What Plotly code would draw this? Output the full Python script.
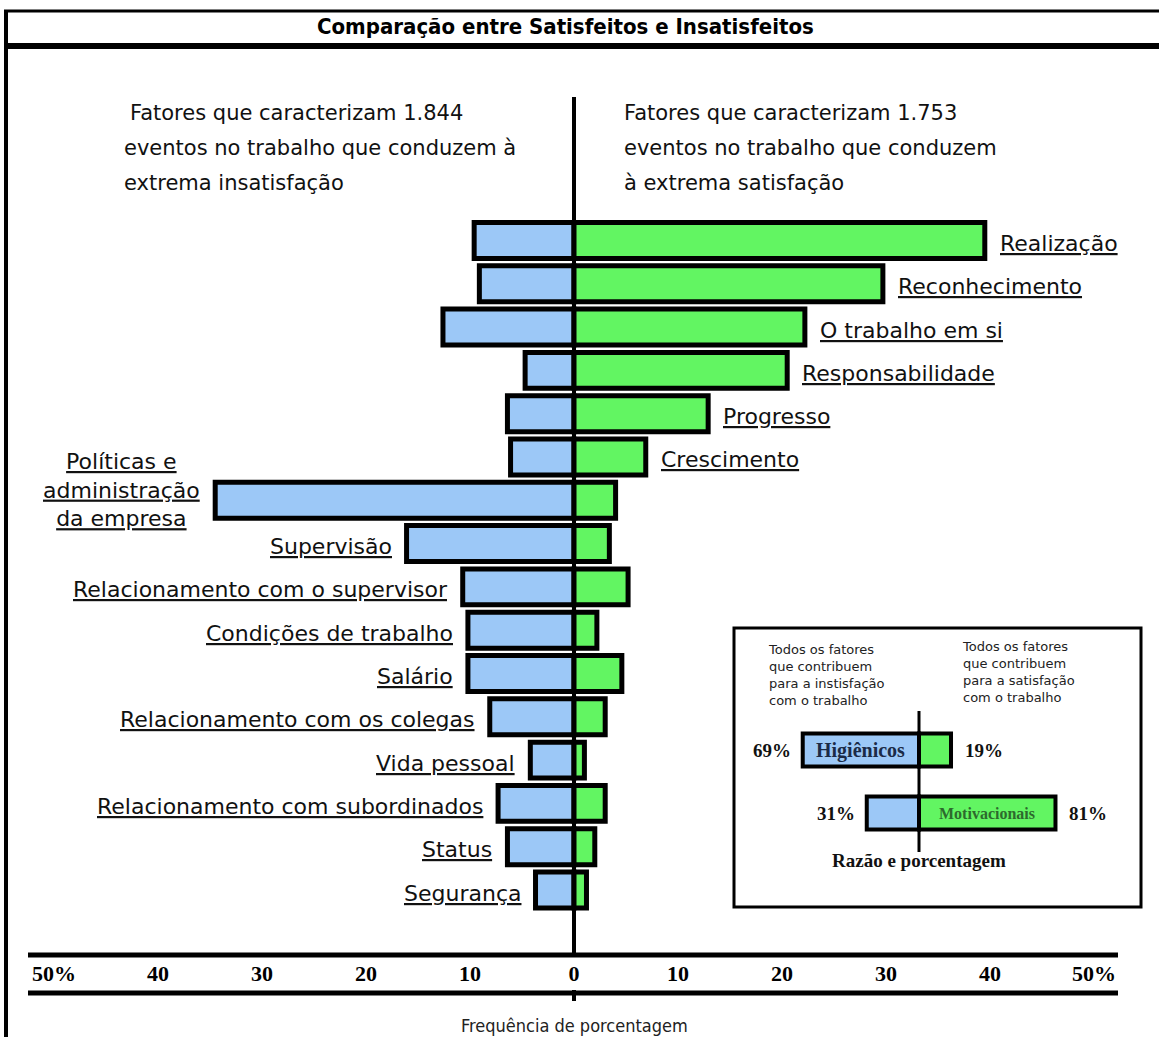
import plotly.graph_objects as go

W, H = 1159, 1037

# Fatores motivacionais (rótulo à direita) e higiênicos (rótulo à esquerda)
motivadores = [
    "Realização",
    "Reconhecimento",
    "O trabalho em si",
    "Responsabilidade",
    "Progresso",
    "Crescimento",
]
higienicos = [
    "Políticas e administração da empresa",
    "Supervisão",
    "Relacionamento com o supervisor",
    "Condições de trabalho",
    "Salário",
    "Relacionamento com os colegas",
    "Vida pessoal",
    "Relacionamento com subordinados",
    "Status",
    "Segurança",
]
categorias = motivadores + higienicos

# Frequência (%) em eventos de extrema insatisfação / satisfação
insatisfacao = [9.6, 9.1, 12.6, 4.7, 6.4, 6.1, 34.5, 16.1, 10.7, 10.2, 10.2, 8.1, 4.2, 7.3, 6.4, 3.7]
satisfacao = [39.5, 29.7, 22.2, 20.5, 12.9, 6.9, 4.0, 3.4, 5.2, 2.2, 4.6, 3.0, 1.0, 3.0, 2.0, 1.2]

marcas_x = [-50, -40, -30, -20, -10, 0, 10, 20, 30, 40, 50]
rotulos_x = ["50%", "40", "30", "20", "10", "0", "10", "20", "30", "40", "50%"]

# Quadro-resumo: razão e porcentagem
grupos_resumo = ["Higiênicos", "Motivacionais"]
insat_resumo = [69, 31]
sat_resumo = [19, 81]

AZUL = "#9cc8f7"
VERDE = "#62f562"
SANS = "DejaVu Sans, Verdana, sans-serif"
SERIF = "Liberation Serif, Times New Roman, serif"
NARROW = "Liberation Sans Narrow, DejaVu Sans Condensed, Arial Narrow, Liberation Sans, sans-serif"


def px(x):
    return x / W


def py(y):
    return 1 - y / H


fig = go.Figure()

fig.add_trace(go.Bar(
    y=categorias, x=[-v for v in insatisfacao], orientation="h",
    marker=dict(color=AZUL, line=dict(color="black", width=5)),
    width=0.83, name="Insatisfação", hoverinfo="y+text",
    hovertext=[f"{v}%" for v in insatisfacao],
    xaxis="x", yaxis="y",
))
fig.add_trace(go.Bar(
    y=categorias, x=satisfacao, orientation="h",
    marker=dict(color=VERDE, line=dict(color="black", width=5)),
    width=0.83, name="Satisfação", hoverinfo="y+text",
    hovertext=[f"{v}%" for v in satisfacao],
    xaxis="x", yaxis="y",
))

fig.add_trace(go.Bar(
    y=grupos_resumo, x=[-v for v in insat_resumo], orientation="h",
    marker=dict(color=AZUL, line=dict(color="black", width=4)),
    width=0.52, hoverinfo="skip", xaxis="x2", yaxis="y2",
))
fig.add_trace(go.Bar(
    y=grupos_resumo, x=sat_resumo, orientation="h",
    marker=dict(color=VERDE, line=dict(color="black", width=4)),
    width=0.52, hoverinfo="skip", xaxis="x2", yaxis="y2",
))

anns = []

# Título
anns.append(dict(
    text="Comparação entre Satisfeitos e Insatisfeitos",
    xref="paper", yref="paper", x=px(565), y=py(27),
    xanchor="center", yanchor="middle", showarrow=False,
    font=dict(family=NARROW, size=22, color="black", weight="bold"),
))

# Cabeçalhos dos dois lados
cab_esq = ["Fatores que caracterizam 1.844", "eventos no trabalho que conduzem à", "extrema insatisfação"]
cab_dir = ["Fatores que caracterizam 1.753", "eventos no trabalho que conduzem", "à extrema satisfação"]
for k, (a, b) in enumerate(zip(cab_esq, cab_dir)):
    yy = py(113 + 35 * k)
    anns.append(dict(text=a, xref="paper", yref="paper", x=px(128 if k == 0 else 122), y=yy,
                     xanchor="left", yanchor="middle", showarrow=False,
                     font=dict(family=SANS, size=21, color="#111")))
    anns.append(dict(text=b, xref="paper", yref="paper", x=px(622), y=yy,
                     xanchor="left", yanchor="middle", showarrow=False,
                     font=dict(family=SANS, size=21, color="#111")))

# Rótulos sublinhados dos fatores
quebras = {"Políticas e administração da empresa": "Políticas e<br>administração<br>da empresa"}
for i, cat in enumerate(categorias):
    texto = quebras.get(cat, cat)
    if cat in motivadores:
        x, xa, xs = satisfacao[i], "left", 13
    else:
        x, xa, xs = -insatisfacao[i], "right", -13
    anns.append(dict(
        text=texto, xref="x", yref="y", x=x, y=cat,
        xanchor=xa, yanchor="middle", xshift=xs,
        yshift=10 if "<br>" in texto else -3,
        align="center", showarrow=False,
        font=dict(family=SANS, size=22, color="#111", lineposition="under"),
    ))

# Título do eixo
anns.append(dict(
    text="Frequência de porcentagem", xref="paper", yref="paper",
    x=px(574), y=py(1025), xanchor="center", yanchor="middle", showarrow=False,
    font=dict(family=NARROW, size=18, color="#222"),
))

# Quadro-resumo: textos
anns.append(dict(
    text="Todos os fatores<br>que contribuem<br>para a instisfação<br>com o trabalho",
    xref="paper", yref="paper", x=px(766), y=py(640), xanchor="left", yanchor="top",
    align="left", showarrow=False, font=dict(family=SANS, size=13, color="#222"),
))
anns.append(dict(
    text="Todos os fatores<br>que contribuem<br>para a satisfação<br>com o trabalho",
    xref="paper", yref="paper", x=px(960), y=py(637), xanchor="left", yanchor="top",
    align="left", showarrow=False, font=dict(family=SANS, size=13, color="#222"),
))
for g, vi, vs in zip(grupos_resumo, insat_resumo, sat_resumo):
    anns.append(dict(text=f"{vi}%", xref="x2", yref="y2", x=-vi, y=g,
                     xanchor="right", yanchor="middle", xshift=-10, showarrow=False,
                     font=dict(family=SERIF, size=19, color="#111", weight="bold")))
    anns.append(dict(text=f"{vs}%", xref="x2", yref="y2", x=vs, y=g,
                     xanchor="left", yanchor="middle", xshift=12, showarrow=False,
                     font=dict(family=SERIF, size=19, color="#111", weight="bold")))
anns.append(dict(text=grupos_resumo[0], xref="x2", yref="y2", x=-insat_resumo[0] / 2, y=grupos_resumo[0],
                 xanchor="center", yanchor="middle", showarrow=False,
                 font=dict(family=SERIF, size=20, color="#1b2b47", weight="bold")))
anns.append(dict(text=grupos_resumo[1], xref="x2", yref="y2", x=sat_resumo[1] / 2, y=grupos_resumo[1],
                 xanchor="center", yanchor="middle", showarrow=False,
                 font=dict(family=SERIF, size=16, color="#2d6a2d", weight="bold")))
anns.append(dict(text="Razão e porcentagem", xref="paper", yref="paper", x=px(919), y=py(860),
                 xanchor="center", yanchor="middle", showarrow=False,
                 font=dict(family=SERIF, size=19, color="#111", weight="bold")))

shapes = [
    # moldura e faixa do título
    dict(type="line", xref="paper", yref="paper", x0=px(4), x1=1, y0=py(11), y1=py(11),
         line=dict(color="black", width=3)),
    dict(type="line", xref="paper", yref="paper", x0=px(4), x1=1, y0=py(46), y1=py(46),
         line=dict(color="black", width=6)),
    dict(type="line", xref="paper", yref="paper", x0=px(6), x1=px(6), y0=py(10), y1=0,
         line=dict(color="black", width=4)),
    # eixo de porcentagem (duas linhas)
    dict(type="line", xref="paper", yref="paper", x0=px(28), x1=px(1118), y0=py(955), y1=py(955),
         line=dict(color="black", width=5)),
    dict(type="line", xref="paper", yref="paper", x0=px(28), x1=px(1118), y0=py(993), y1=py(993),
         line=dict(color="black", width=5)),
    # linha central
    dict(type="line", xref="x", yref="paper", x0=0, x1=0, y0=py(97), y1=py(955),
         line=dict(color="black", width=4)),
    dict(type="line", xref="x", yref="paper", x0=0, x1=0, y0=py(990), y1=py(1001),
         line=dict(color="black", width=4)),
    # quadro-resumo
    dict(type="rect", xref="paper", yref="paper", x0=px(734), x1=px(1141), y0=py(907), y1=py(628),
         line=dict(color="black", width=3)),
    dict(type="line", xref="x2", yref="paper", x0=0, x1=0, y0=py(711), y1=py(852),
         line=dict(color="black", width=3)),
]

fig.update_layout(
    width=W, height=H, autosize=False,
    margin=dict(l=0, r=0, t=0, b=0, pad=0),
    paper_bgcolor="white", plot_bgcolor="rgba(0,0,0,0)",
    barmode="overlay", showlegend=False,
    annotations=anns, shapes=shapes,
    xaxis=dict(
        domain=[px(54), px(1094)], range=[-50, 50], anchor="y",
        tickvals=marcas_x, ticktext=rotulos_x, ticks="",
        showgrid=False, zeroline=False, showline=False, automargin=False,
        tickfont=dict(family=SERIF, size=22, color="black", weight="bold"),
        ticklabelstandoff=5,
    ),
    yaxis=dict(
        domain=[py(953), 1], range=[16.455, -5.554], anchor="x",
        type="category", categoryorder="array", categoryarray=categorias,
        showticklabels=False, showgrid=False, zeroline=False, showline=False,
        automargin=False,
    ),
    xaxis2=dict(
        domain=[px(760), px(1120)], range=[-94.36, 119.29], anchor="y2",
        visible=False, automargin=False,
    ),
    yaxis2=dict(
        domain=[py(852), py(711)], range=[1.619, -0.619], anchor="x2",
        type="category", categoryorder="array", categoryarray=grupos_resumo,
        visible=False, automargin=False,
    ),
)

fig.write_html("out.html")
